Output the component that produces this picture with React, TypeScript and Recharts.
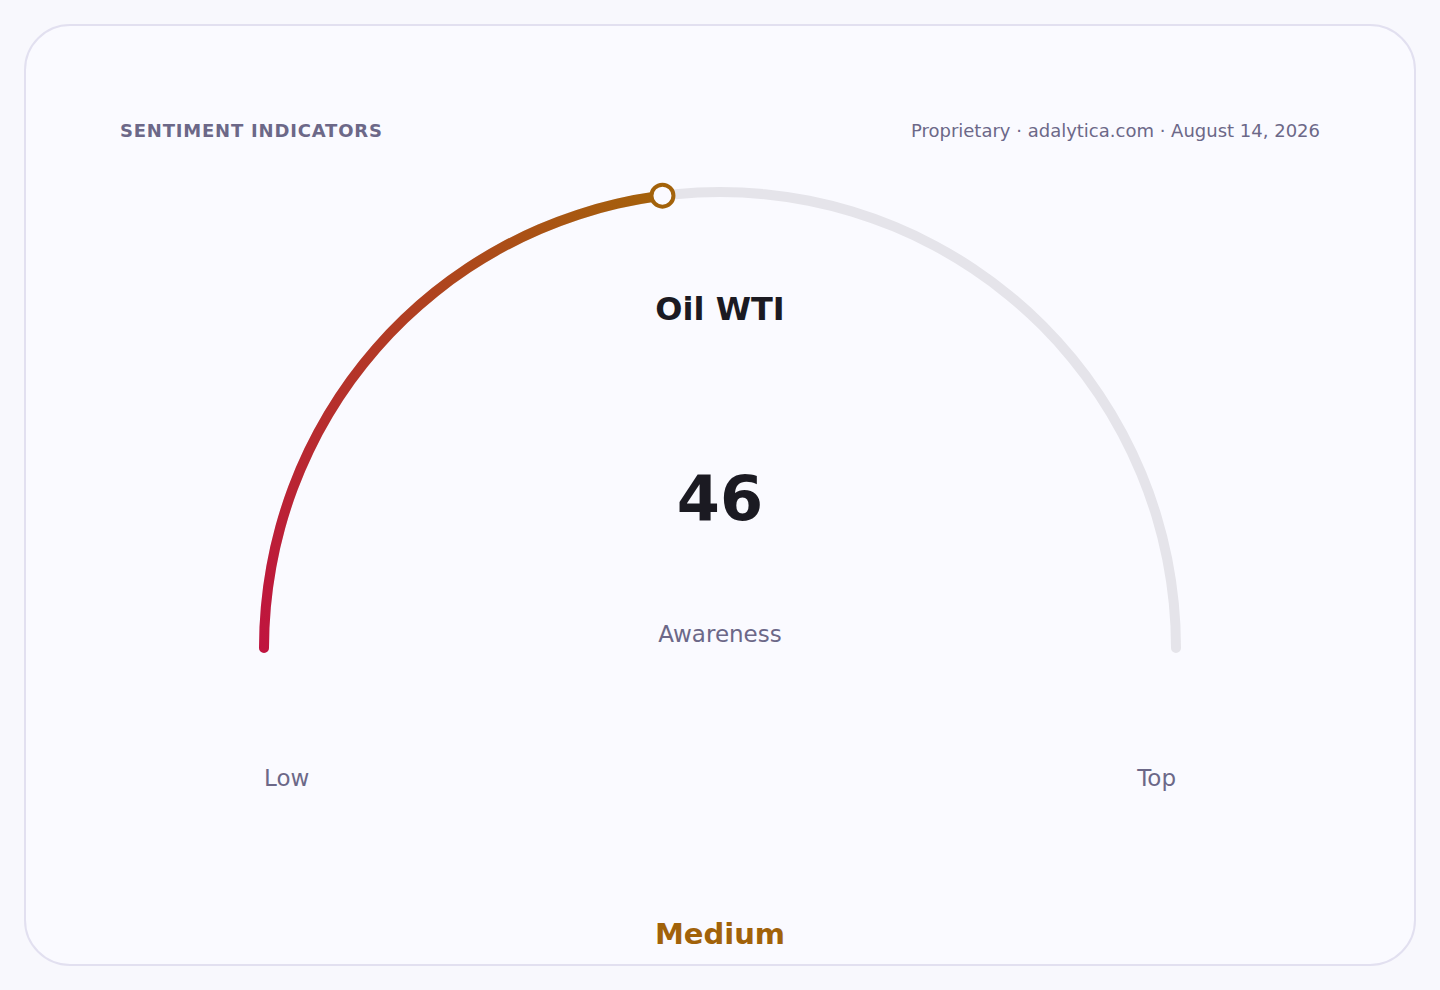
import { Cell, Pie, PieChart } from "recharts";

// gauge reading
const indicator = "Oil WTI";
const metric = "Awareness";
const gaugeMax = 100;
const gaugeValue = 46;
const band = "Medium";
const endLabels = ["Low", "Top"];

const title = "SENTIMENT INDICATORS";
const source = "Proprietary · adalytica.com · August 14, 2026";

const valueData = [
  { name: "value", value: gaugeValue },
  { name: "rest", value: gaugeMax - gaugeValue },
];
const trackData = [{ name: "track", value: gaugeMax }];

const FONT = "'DejaVu Sans', Verdana, sans-serif";
const RADIAN = Math.PI / 180;
// round cap overhang of the 10px stroke, in degrees
const CAP = 0.63;

const Marker = (props: any) => {
  if (props.index !== 0) return null;
  const { cx, cy, innerRadius, outerRadius, midAngle } = props;
  const end = props.endAngle ?? 2 * midAngle - (180 + CAP);
  const r = (innerRadius + outerRadius) / 2;
  const x = cx + r * Math.cos(-end * RADIAN);
  const y = cy + r * Math.sin(-end * RADIAN);
  return <circle cx={x} cy={y} r={11} fill="#fbfaff" stroke="#a3620a" strokeWidth={4} />;
};

const App = () => {
  return (
    <div
      style={{
        position: "absolute",
        left: 0,
        top: 0,
        width: 1440,
        height: 990,
        background: "#f8f8fd",
        fontFamily: FONT,
      }}
    >
      <div
        style={{
          position: "absolute",
          left: 24,
          top: 24,
          width: 1392,
          height: 942,
          boxSizing: "border-box",
          border: "2px solid #e2e0f0",
          borderRadius: 46,
          background: "#fafaff",
        }}
      />
      <div
        style={{
          position: "absolute",
          left: 120,
          top: 120,
          fontSize: 18,
          fontWeight: 700,
          letterSpacing: 0.8,
          color: "#6c6888",
        }}
      >
        {title}
      </div>
      <div
        style={{
          position: "absolute",
          right: 120,
          top: 120,
          fontSize: 18,
          color: "#6c6888",
        }}
      >
        {source}
      </div>
      <div style={{ position: "absolute", left: 0, top: 0 }}>
        <PieChart width={1440} height={990} margin={{ top: 0, right: 0, bottom: 0, left: 0 }}>
          <defs>
            <linearGradient id="gaugeFill" x1="0" y1="1" x2="1" y2="0">
              <stop offset="0%" stopColor="#c0133f" />
              <stop offset="100%" stopColor="#a4620a" />
            </linearGradient>
          </defs>
          <Pie
            data={trackData}
            dataKey="value"
            cx={720}
            cy={648}
            startAngle={180 + CAP}
            endAngle={-CAP}
            innerRadius={451}
            outerRadius={461}
            cornerRadius={5}
            fill="#e5e4ea"
            stroke="none"
            isAnimationActive={false}
          />
          <Pie
            data={valueData}
            dataKey="value"
            cx={720}
            cy={648}
            startAngle={180 + CAP}
            endAngle={-CAP}
            innerRadius={451}
            outerRadius={461}
            cornerRadius={5}
            paddingAngle={0}
            stroke="none"
            label={Marker}
            labelLine={false}
            isAnimationActive={false}
          >
            {valueData.map((d, i) => (
              <Cell key={d.name} fill={i === 0 ? "url(#gaugeFill)" : "transparent"} />
            ))}
          </Pie>
        </PieChart>
      </div>
      <div
        style={{
          position: "absolute",
          left: 0,
          width: 1440,
          top: 290,
          textAlign: "center",
          fontSize: 32,
          fontWeight: 700,
          color: "#1b1a22",
        }}
      >
        {indicator}
      </div>
      <div
        style={{
          position: "absolute",
          left: 0,
          width: 1440,
          top: 462,
          textAlign: "center",
          fontSize: 62,
          fontWeight: 700,
          color: "#1b1a22",
        }}
      >
        {gaugeValue}
      </div>
      <div
        style={{
          position: "absolute",
          left: 0,
          width: 1440,
          top: 621,
          textAlign: "center",
          fontSize: 23,
          color: "#6c6888",
        }}
      >
        {metric}
      </div>
      <div style={{ position: "absolute", left: 264, top: 765, fontSize: 23, color: "#6c6888" }}>
        {endLabels[0]}
      </div>
      <div style={{ position: "absolute", right: 264, top: 765, fontSize: 23, color: "#6c6888" }}>
        {endLabels[1]}
      </div>
      <div
        style={{
          position: "absolute",
          left: 0,
          width: 1440,
          top: 917,
          textAlign: "center",
          fontSize: 29,
          fontWeight: 700,
          color: "#a1620a",
        }}
      >
        {band}
      </div>
    </div>
  );
};

export default App;
